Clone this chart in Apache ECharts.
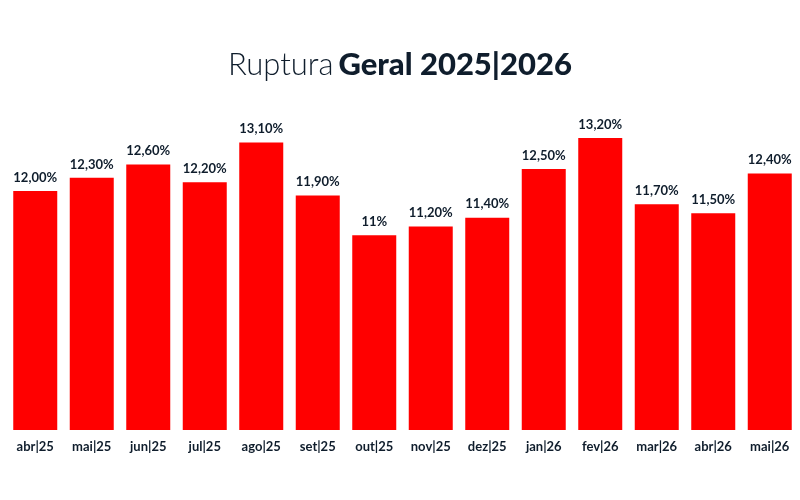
<!DOCTYPE html>
<html>
<head>
<meta charset="utf-8">
<script src="https://cdn.jsdelivr.net/npm/echarts@6/dist/echarts.min.js"></script>
<style>
  html, body { margin: 0; padding: 0; background: #fff; }
  #chart { width: 800px; height: 500px; }
</style>
</head>
<body>
<div id="chart"></div>
<script>
var months = ['abr|25', 'mai|25', 'jun|25', 'jul|25', 'ago|25', 'set|25', 'out|25',
              'nov|25', 'dez|25', 'jan|26', 'fev|26', 'mar|26', 'abr|26', 'mai|26'];
var ruptura = [12.00, 12.30, 12.60, 12.20, 13.10, 11.90, 11.00,
               11.20, 11.40, 12.50, 13.20, 11.70, 11.50, 12.40];
// value labels as printed on the original chart
var rupturaLabels = ['12,00%', '12,30%', '12,60%', '12,20%', '13,10%', '11,90%', '11%',
                     '11,20%', '11,40%', '12,50%', '13,20%', '11,70%', '11,50%', '12,40%'];

var navy = '#0f1d2c';

var chart = echarts.init(document.getElementById('chart'));
chart.setOption({
    backgroundColor: '#fff',
    title: {
        text: '{l|Ruptura} {b|Geral 2025|2026}',
        left: 'center',
        top: 44,
        textStyle: {
            rich: {
                l: { fontFamily: 'Lato', fontWeight: 300, fontSize: 31, color: navy },
                b: { fontFamily: 'Lato', fontWeight: 900, fontSize: 31, color: navy }
            }
        }
    },
    grid: { left: 7, right: 2, top: 138, bottom: 70 },
    xAxis: {
        type: 'category',
        data: months,
        axisLine: { show: false },
        axisTick: { show: false },
        axisLabel: {
            margin: 10,
            fontFamily: 'Lato',
            fontWeight: 'bold',
            fontSize: 13,
            color: navy
        }
    },
    yAxis: {
        type: 'value',
        min: 6.6,
        max: 13.2,
        show: false,
        splitLine: { show: false }
    },
    series: [{
        type: 'bar',
        data: ruptura,
        barWidth: 44,
        itemStyle: { color: '#ff0000' },
        label: {
            show: true,
            position: 'top',
            distance: 7,
            fontFamily: 'Lato',
            fontWeight: 'bold',
            fontSize: 13,
            color: navy,
            formatter: function (p) { return rupturaLabels[p.dataIndex]; }
        }
    }]
});
</script>
</body>
</html>
